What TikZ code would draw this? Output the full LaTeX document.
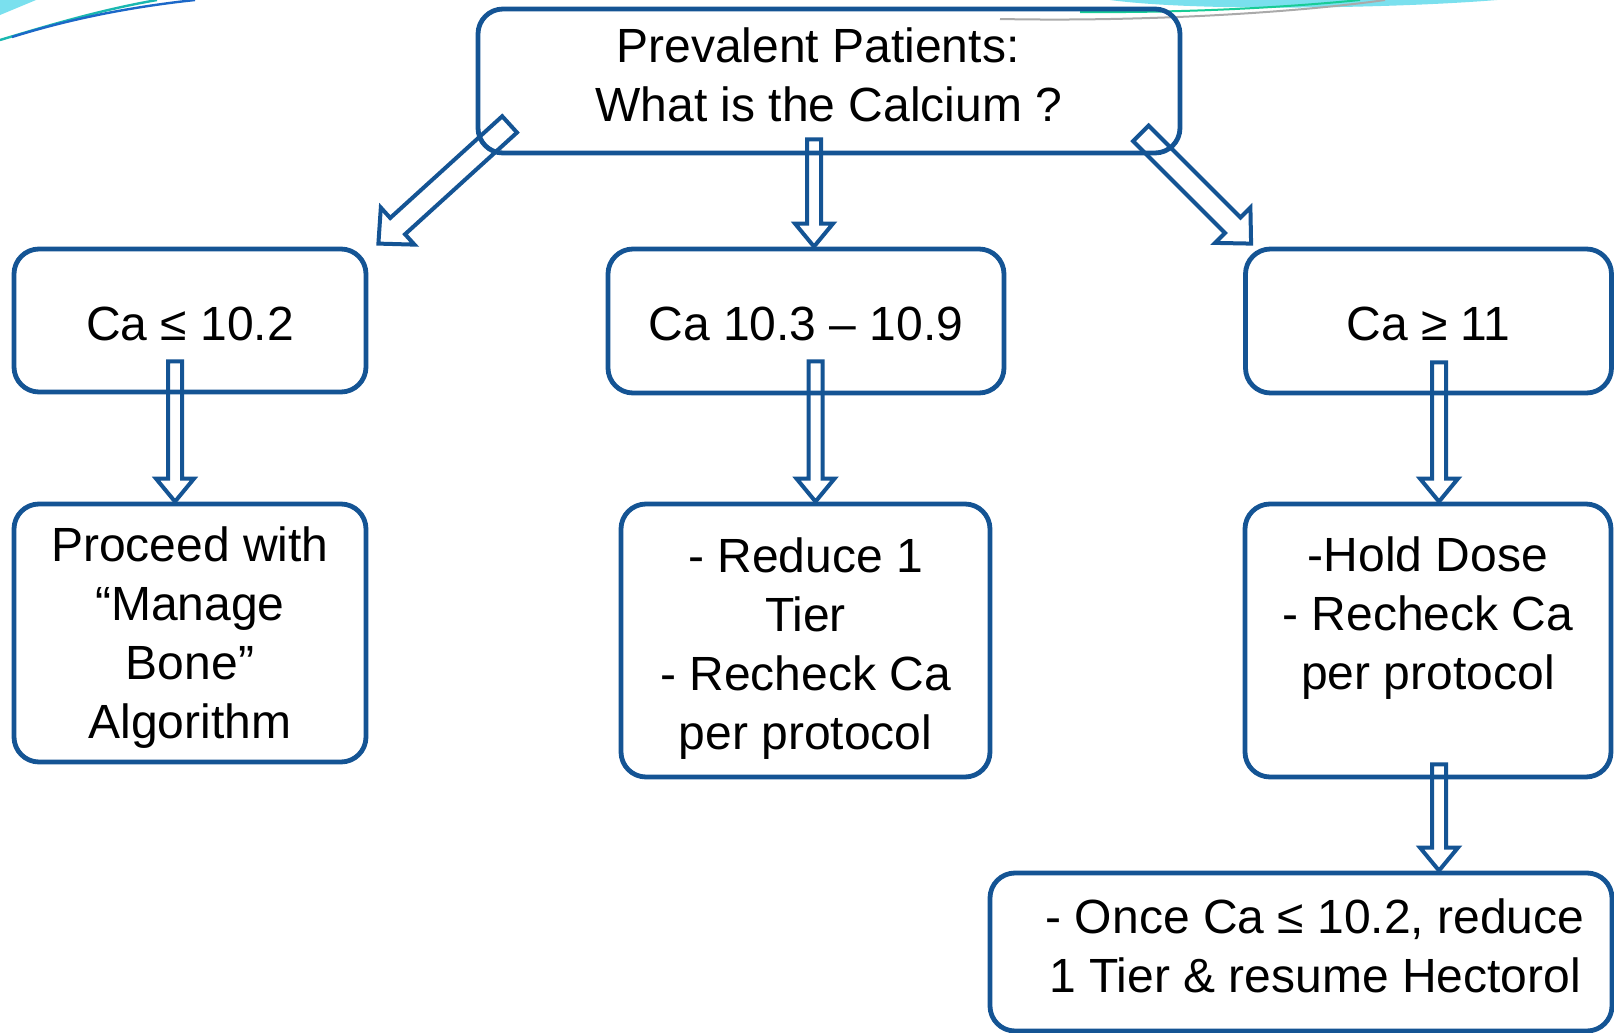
\documentclass[tikz,border=0pt]{standalone}
\usepackage{fontspec}
\setmainfont{Liberation Sans}
\usetikzlibrary{calc}
\definecolor{boxblue}{RGB}{20,84,148}
\definecolor{decocyan}{RGB}{122,224,238}
\definecolor{decoteal}{RGB}{26,184,176}
\definecolor{decoblue}{RGB}{28,104,200}
\definecolor{decogreen}{RGB}{24,204,150}
\definecolor{decogray}{RGB}{170,170,170}
\tikzset{
	calcbox/.style={draw=boxblue, line width=2.4pt, rounded corners=12.5pt, align=center, inner sep=0pt, font=\fontsize{24}{29.5}\selectfont},
	blockline/.style={draw=boxblue, line width=2pt, line join=miter},
}
\def\blockarrow[#1:#2:#3](#4)(#5){%
	\coordinate (ba-s) at (#4);
	\coordinate (ba-t) at (#5);
	\coordinate (ba-h) at ($(ba-t)!#3!(ba-s)$);
	\draw[blockline] ($(ba-s)!#1!90:(ba-t)$) -- ($(ba-h)!#1!-90:(ba-s)$) -- ($(ba-h)!#2!-90:(ba-s)$) -- (ba-t) -- ($(ba-h)!#2!90:(ba-s)$) -- ($(ba-h)!#1!90:(ba-s)$) -- ($(ba-s)!#1!-90:(ba-t)$) -- cycle;}

\begin{document}
\begin{tikzpicture}[x=0.5pt, y=-0.5pt]
		%%%%% START %%%%%
		
		\useasboundingbox[fill=white] (0, 0) rectangle (1614, 1033);
		
		\fill[decocyan] (0, 0) -- (36, 0) -- (0, 15) -- cycle;
		\draw[decoteal, line width=1.2pt] (0, 40) .. controls (50, 25) and (100, 10) .. (157, 0);
		\draw[decoblue, line width=1.2pt] (12, 37) .. controls (60, 22) and (120, 8) .. (195, 0);
		\fill[decocyan] (1110, 0) .. controls (1200, 12) and (1400, 8) .. (1497, 0) -- cycle;
		\draw[decogreen, line width=1pt] (1080, 12) .. controls (1200, 13) and (1300, 6) .. (1360, 0);
		\draw[decogray, line width=1pt] (1000, 19) .. controls (1150, 22) and (1300, 12) .. (1385, 0);
		
		\node[calcbox, minimum width=351pt, minimum height=72pt] (top) at (829, 81) {Prevalent Patients:\hspace*{11pt}\\What is the Calcium ?\hspace*{11pt}\\[-32.4pt]\strut};
		
		\node[calcbox, minimum width=176pt, minimum height=71.5pt] (l1) at (190, 320.5) {\strut\\[-30pt]Ca ≤ 10.2};
		\node[calcbox, minimum width=198pt, minimum height=72pt] (c1) at (806, 321) {\strut\\[-30pt]Ca 10.3 – 10.9};
		\node[calcbox, minimum width=183pt, minimum height=72pt] (r1) at (1428.5, 321) {\strut\\[-30pt]Ca ≥ 11};
		
		\node[calcbox, minimum width=176pt, minimum height=129pt] (l2) at (190, 633) {\strut\\[-28.5pt]Proceed with\\“Manage\\Bone”\\Algorithm};
		\node[calcbox, minimum width=184.5pt, minimum height=136.5pt] (c2) at (805.5, 640.5) {\strut\\[-25pt]- Reduce 1\\Tier\\- Recheck Ca\\per protocol};
		\node[calcbox, minimum width=183pt, minimum height=136.5pt] (r2) at (1428, 640.5) {-Hold Dose\\- Recheck Ca\\per protocol\\[-10.5pt]\strut};
		
		\node[calcbox, minimum width=311pt, minimum height=79pt] (once) at (1301, 952) {\hspace*{14pt}- Once Ca ≤ 10.2, reduce\\\hspace*{14pt}1 Tier \& resume Hectorol\\[-32.4pt]\strut};
		
		\coordinate (lt) at ($(top.south west)+(34, -31)$);
		\coordinate (lh) at ($(l1.north east)+(10, -3)$);
		\coordinate (mt) at ($(top.south)+(-15, -16)$);
		\coordinate (mh) at (mt |- c1.north);
		\coordinate (rt) at ($(top.south east)+(-41.5, -22)$);
		\coordinate (rh) at ($(r1.north west)+(8, -3)$);
		
		\coordinate (l1t) at ($(l1.south)+(-15, -33)$);
		\coordinate (l1h) at (l1t |- l2.north);
		\coordinate (c1t) at ($(c1.south)+(9.5, -34)$);
		\coordinate (c1h) at (c1t |- c2.north);
		\coordinate (r1t) at ($(r1.south)+(10.5, -33)$);
		\coordinate (r1h) at (r1t |- r2.north);
		\coordinate (r2t) at ($(r2.south)+(11, -15)$);
		\coordinate (r2h) at (r2t |- once.north);
		
		\blockarrow[5.5pt:12.5pt:13pt](lt)(lh);
		\blockarrow[3.5pt:9.5pt:11.5pt](mt)(mh);
		\blockarrow[5.5pt:12.5pt:13pt](rt)(rh);
		
		\blockarrow[3.5pt:9.5pt:11.5pt](l1t)(l1h);
		\blockarrow[3.5pt:9.5pt:11.5pt](c1t)(c1h);
		\blockarrow[3.5pt:9.5pt:11.5pt](r1t)(r1h);
		\blockarrow[3.5pt:9.5pt:11.5pt](r2t)(r2h);
		
		%%%%% END %%%%%
	\end{tikzpicture}
\end{document}
